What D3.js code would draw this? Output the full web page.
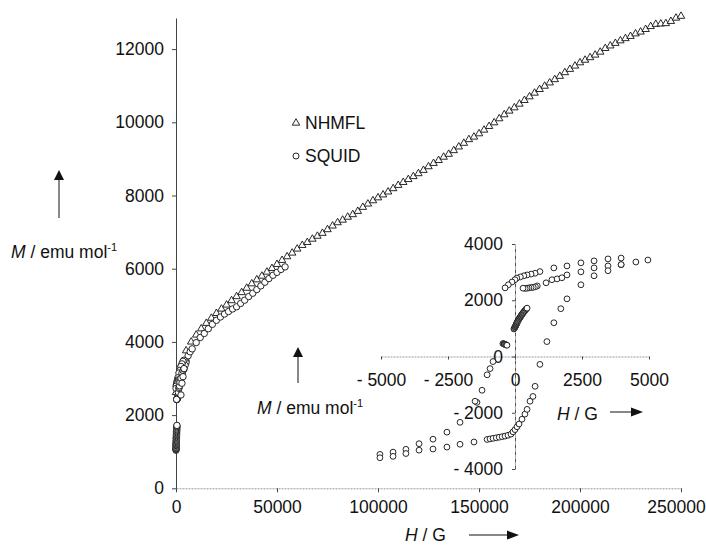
<!DOCTYPE html>
<html>
<head>
<meta charset="utf-8">
<script src="https://cdn.jsdelivr.net/npm/d3@7"></script>
<style>
  body { margin: 0; background: #fff; }
  svg { display: block; }
  text { font-family: "Liberation Sans", Arial, sans-serif; fill: #111; }
</style>
</head>
<body>
<div id="chart"></div>
<script>
// NHMFL pulsed field data, H in G, M in emu/mol
var nhmflH = [0, 2500, 5000, 7500, 10000, 12500, 15000, 17500, 20000, 22500,
    25000, 27500, 30000, 32500, 35000, 37500, 40000, 42500, 45000, 47500,
    50000, 52500, 55000, 57500, 60000, 62500, 65000, 67500, 70000, 72500,
    75000, 77500, 80000, 82500, 85000, 87500, 90000, 92500, 95000, 97500,
    100000, 102500, 105000, 107500, 110000, 112500, 115000, 117500, 120000, 122500,
    125000, 127500, 130000, 132500, 135000, 137500, 140000, 142500, 145000, 147500,
    150000, 152500, 155000, 157500, 160000, 162500, 165000, 167500, 170000, 172500,
    175000, 177500, 180000, 182500, 185000, 187500, 190000, 192500, 195000, 197500,
    200000, 202500, 205000, 207500, 210000, 212500, 215000, 217500, 220000, 222500,
    225000, 227500, 230000, 232500, 235000, 237500, 240000, 242500, 245000, 247500,
    250000];
var nhmflM = [2620, 3380, 3760, 4000, 4190, 4360, 4510, 4650, 4780, 4900,
    5010, 5130, 5240, 5350, 5470, 5590, 5700, 5800, 5910, 6010,
    6120, 6230, 6330, 6430, 6540, 6640, 6720, 6810, 6890, 6970,
    7070, 7170, 7260, 7330, 7410, 7480, 7570, 7680, 7770, 7860,
    7940, 8020, 8100, 8190, 8280, 8360, 8440, 8520, 8600, 8690,
    8790, 8880, 8960, 9050, 9130, 9230, 9330, 9430, 9530, 9600,
    9690, 9790, 9890, 9990, 10100, 10210, 10310, 10400, 10500, 10600,
    10700, 10800, 10900, 10990, 11080, 11170, 11260, 11360, 11450, 11540,
    11630, 11700, 11770, 11840, 11920, 12020, 12090, 12160, 12230, 12290,
    12350, 12420, 12470, 12540, 12620, 12680, 12690, 12700, 12760, 12850,
    12900];

// SQUID virgin curve
var squidH = [1000, 2000, 3000, 4000, 5000, 6000, 7000, 8000, 10000, 12000,
    14000, 16000, 18000, 20000, 22000, 24000, 26000, 28000, 30000, 32000,
    34000, 36000, 38000, 40000, 42000, 44000, 46000, 48000, 50000, 52000, 54000];
var squidM = [2700, 2960, 3150, 3320, 3480, 3620, 3730, 3810, 3980, 4120,
    4230, 4360, 4480, 4590, 4680, 4760, 4830, 4900, 4960, 5050,
    5140, 5240, 5330, 5430, 5530, 5630, 5730, 5820, 5900, 5980, 6050];

// SQUID hysteresis loop (inset)
var loopH = [4960, 4510, 3960, 3470, 2950, 2460, 1940, 1450, 930, 750,
    600, 450, 330, 200, 70, 0, -110, -250, -370,
    830, 760, 680, 600, 520, 450, 380, 300, 1160, 1380, 1570, 1750,
    1940, 2460, 2950, 3470, 3960,
    -40, -20, 0, 10, 20, 30, 40, 50, 60, 70, 80, 90, 100, 115, 130, 145, 160, 175, 190, 205,
    220, 235, 250, 265, 280, 300, 320, 340, 360, 385, 410, 430, 450,
    -450, -420, -400, -380, -350, -320, -300,
    -820, -930, -1040, -1230, -1420, -1490, -2050, -2540, -3060, -3580, -4070, -4550, -5040,
    -5040, -4550, -4070, -3580, -3060, -2540, -2050, -1530, -1040, -930, -820, -700,
    -590, -480, -370, -260, -150, -75, 0, 75, 150, 260, 370, 450, 560, 670, 750,
    930, 1190, 1450, 1710, 1940, 2460, 2950, 3470, 3960];
var loopM = [3430, 3360, 3500, 3470, 3400, 3330, 3220, 3150, 3020, 2960,
    2930, 2900, 2870, 2830, 2790, 2730, 2650, 2550, 2440,
    2510, 2480, 2460, 2450, 2440, 2430, 2420, 2430, 2620, 2730, 2760, 2800,
    2900, 3010, 3150, 3220, 3260,
    980, 1010, 1040, 1060, 1080, 1100, 1120, 1150, 1170, 1190, 1210, 1230, 1250, 1280, 1300, 1320, 1350, 1370, 1390, 1410,
    1440, 1460, 1480, 1500, 1520, 1550, 1570, 1600, 1620, 1650, 1680, 1700, 1720,
    460, 450, 440, 430, 420, 410, 400,
    -180, -430, -650, -1200, -1630, -1590, -2340, -2690, -2940, -3100, -3300, -3400, -3480,
    -3600, -3550, -3450, -3330, -3290, -3220, -3120, -3040, -2950, -2930, -2910, -2890,
    -2870, -2850, -2830, -2800, -2760, -2680, -2600, -2500, -2400, -2230, -2050, -1880, -1590, -1420, -1060,
    -280, 530, 1200, 1700, 2050, 2550, 2870, 3050, 3270];

var mainXTicks = [0, 50000, 100000, 150000, 200000, 250000];
var mainYTicks = [0, 2000, 4000, 6000, 8000, 10000, 12000];
var insetXTicks = [-5000, -2500, 0, 2500, 5000];
var insetYTicks = [-4000, -2000, 0, 2000, 4000];

function draw() {
    "use strict";
    var width = 706, height = 546;
    var fontSize = "17.5px";

    var svg = d3.select("#chart")
        .append("svg")
        .attr("width", width)
        .attr("height", height);

    var x = d3.scaleLinear().domain([0, 250000]).range([176, 681]);
    var y = d3.scaleLinear().domain([0, 12850]).range([488.3, 18]);

    var ix = d3.scaleLinear().domain([-5000, 5000]).range([381, 649]);
    var iy = d3.scaleLinear().domain([-4000, 4000]).range([469, 244]);

    var signFmt = function (d) {
        return d < 0 ? "- " + Math.abs(d) : String(d);
    };

    // main axes
    var xAxis = svg.append("g")
        .attr("transform", "translate(0,488.3)")
        .call(d3.axisBottom(x).tickValues(mainXTicks).tickFormat(d3.format("d"))
            .tickSize(4).tickSizeOuter(0).tickPadding(8));
    xAxis.select(".domain").attr("stroke", "#999").attr("stroke-dasharray", "2,1");
    // last label sits against the right edge
    xAxis.selectAll(".tick text").filter(function (d) { return d === 250000; })
        .attr("x", -5);

    var yAxis = svg.append("g")
        .attr("transform", "translate(176,0)")
        .call(d3.axisLeft(y).tickValues(mainYTicks).tickFormat(d3.format("d"))
            .tickSize(4).tickSizeOuter(0).tickPadding(8));
    yAxis.select(".domain").attr("stroke", "#444");

    // inset axes
    var ixAxis = svg.append("g")
        .attr("transform", "translate(0," + iy(0) + ")")
        .call(d3.axisBottom(ix).tickValues(insetXTicks).tickFormat(signFmt)
            .tickSize(3).tickSizeOuter(0).tickPadding(14));
    ixAxis.select(".domain").attr("stroke", "#999").attr("stroke-dasharray", "2,1");

    var iyAxis = svg.append("g")
        .attr("transform", "translate(" + ix(0) + ",0)")
        .call(d3.axisLeft(iy).tickValues(insetYTicks).tickFormat(signFmt)
            .tickSize(3).tickSizeOuter(0).tickPadding(9));
    iyAxis.select(".domain").attr("stroke", "#555").attr("stroke-dasharray", "4,1,1,1");

    svg.selectAll(".tick line").attr("stroke", "#444");
    svg.selectAll(".tick text")
        .style("font-family", "'Liberation Sans', Arial, sans-serif")
        .style("font-size", fontSize)
        .attr("fill", "#111");

    // main data
    var nhmfl = nhmflH.map(function (h, i) { return {h: h, m: nhmflM[i]}; });
    var squid = squidH.map(function (h, i) { return {h: h, m: squidM[i]}; });
    var loop = loopH.map(function (h, i) { return {h: h, m: loopM[i]}; });
    // only the positive-field points near zero show up on the big plot
    var squidMain = squid.concat(loop.filter(function (d) {
        return d.h >= 0 && (d.m >= 2300 || (d.h <= 450 && d.m >= 900));
    }));

    var tri = d3.symbol().type(d3.symbolTriangle).size(24);

    svg.append("g").selectAll("path")
        .data(nhmfl)
        .enter()
        .append("path")
        .attr("d", tri)
        .attr("transform", function (d) {
            return "translate(" + x(d.h) + "," + y(d.m) + ")";
        })
        .attr("fill", "#fff")
        .attr("stroke", "#111")
        .attr("stroke-width", 0.9);

    svg.append("g").selectAll("circle")
        .data(squidMain)
        .enter()
        .append("circle")
        .attr("cx", function (d) { return x(d.h); })
        .attr("cy", function (d) { return y(d.m); })
        .attr("r", 3.2)
        .attr("fill", "#fff")
        .attr("stroke", "#111")
        .attr("stroke-width", 0.9);

    // inset data
    svg.append("g").selectAll("circle")
        .data(loop)
        .enter()
        .append("circle")
        .attr("cx", function (d) { return ix(d.h); })
        .attr("cy", function (d) { return iy(d.m); })
        .attr("r", 2.9)
        .attr("fill", "#fff")
        .attr("stroke", "#111")
        .attr("stroke-width", 0.9);

    // legend
    svg.append("path")
        .attr("d", tri)
        .attr("transform", "translate(296,123)")
        .attr("fill", "#fff").attr("stroke", "#111").attr("stroke-width", 0.9);
    svg.append("text").attr("x", 305).attr("y", 129)
        .style("font-size", fontSize).text("NHMFL");
    svg.append("circle").attr("cx", 296).attr("cy", 156).attr("r", 3)
        .attr("fill", "#fff").attr("stroke", "#111").attr("stroke-width", 0.9);
    svg.append("text").attr("x", 305).attr("y", 162)
        .style("font-size", fontSize).text("SQUID");

    // axis titles with arrows
    function mLabel(tx, ty) {
        var t = svg.append("text").attr("x", tx).attr("y", ty).style("font-size", fontSize);
        t.append("tspan").style("font-style", "italic").text("M");
        t.append("tspan").text(" / emu mol");
        t.append("tspan").attr("dy", -7).style("font-size", "11px").text("-1");
    }
    function hLabel(tx, ty) {
        var t = svg.append("text").attr("x", tx).attr("y", ty).style("font-size", fontSize);
        t.append("tspan").style("font-style", "italic").text("H");
        t.append("tspan").text(" / G");
    }
    function upArrow(ax, y0, y1) {
        svg.append("line").attr("x1", ax).attr("x2", ax).attr("y1", y0).attr("y2", y1 + 8)
            .attr("stroke", "#111").attr("stroke-width", 1);
        svg.append("path")
            .attr("d", "M" + (ax - 5) + "," + (y1 + 10) + "L" + (ax + 5) + "," + (y1 + 10) + "L" + ax + "," + y1 + "Z")
            .attr("fill", "#111");
    }
    function rightArrow(ay, x0, x1) {
        svg.append("line").attr("x1", x0).attr("x2", x1 - 8).attr("y1", ay).attr("y2", ay)
            .attr("stroke", "#111").attr("stroke-width", 1);
        svg.append("path")
            .attr("d", "M" + (x1 - 12) + "," + (ay - 4.5) + "L" + (x1 - 12) + "," + (ay + 4.5) + "L" + x1 + "," + ay + "Z")
            .attr("fill", "#111");
    }

    mLabel(11, 258);
    upArrow(59, 218, 170);
    hLabel(405, 541);
    rightArrow(535, 469, 519);

    mLabel(257, 414);
    upArrow(298, 383, 347);
    hLabel(557, 420);
    rightArrow(412, 610, 643);
}

draw();
</script>
</body>
</html>
